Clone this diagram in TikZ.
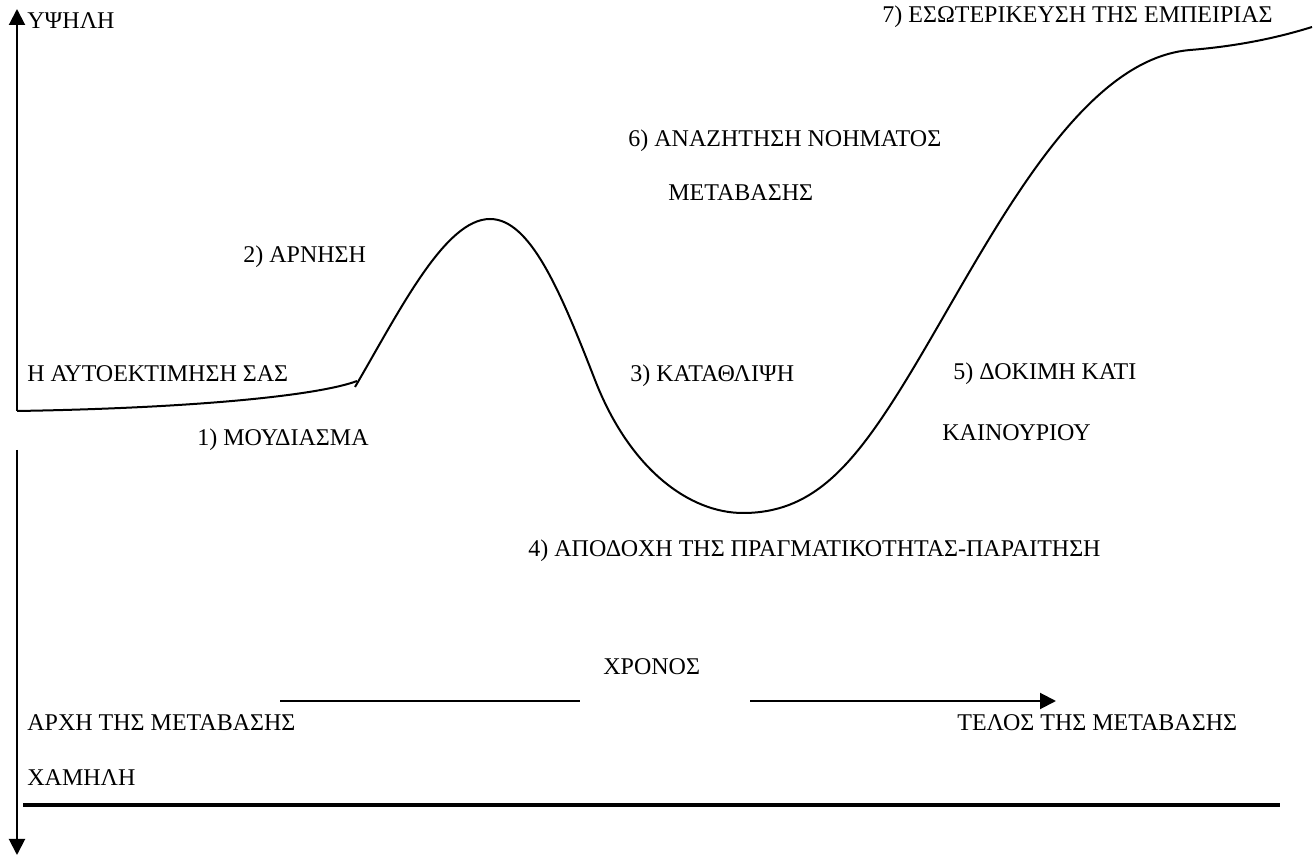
\documentclass[tikz,border=0pt]{standalone}
\usepackage{fontspec}
\setmainfont{Liberation Serif}
\usetikzlibrary{arrows.meta}
\tikzset{
	>={Triangle[length=8pt,width=8pt]}
}

\begin{document}
\begin{tikzpicture}[
x = 0.5pt, y = -0.5pt,
every node/.style = {
	font = \fontsize{12}{14}\selectfont,
	inner sep = 0pt
},
stage/.style = {
	anchor = base west
},
axis/.style = {
	->,
	line width = 1pt
},
curve/.style = {
	line width = 1pt
},
timeline/.style = {
	line width = 1pt
},
ground/.style = {
	line width = 2pt
}
]
\useasboundingbox (0,0) rectangle (1314,855);

% axis
\coordinate (origin) at (17,411);
\coordinate (high) at (17,9);
\coordinate (gapend) at (17,450);
\coordinate (low) at (17,855);
\draw[axis] (origin) -- (high);
\draw[axis] (gapend) -- (low);

% labels
\node [stage] (hi) at (27,29) {ΥΨΗΛΗ};
\node [stage] (s7) at (882,23) {7) ΕΣΩΤΕΡΙΚΕΥΣΗ ΤΗΣ ΕΜΠΕΙΡΙΑΣ};
\node [stage] (s6) at (628,147) {6) ΑΝΑΖΗΤΗΣΗ ΝΟΗΜΑΤΟΣ};
\node [stage] (s6b) at (668,201) {ΜΕΤΑΒΑΣΗΣ};
\node [stage] (s2) at (243,263) {2) ΑΡΝΗΣΗ};
\node [stage] (self) at (27,382) {Η ΑΥΤΟΕΚΤΙΜΗΣΗ ΣΑΣ};
\node [stage] (s3) at (630,382) {3) ΚΑΤΑΘΛΙΨΗ};
\node [stage] (s5) at (953,380) {5) ΔΟΚΙΜΗ ΚΑΤΙ};
\node [stage] (s1) at (197,446) {1) ΜΟΥΔΙΑΣΜΑ};
\node [stage] (s5b) at (942,441) {ΚΑΙΝΟΥΡΙΟΥ};
\node [stage] (s4) at (528,557) {4) ΑΠΟΔΟΧΗ ΤΗΣ ΠΡΑΓΜΑΤΙΚΟΤΗΤΑΣ-ΠΑΡΑΙΤΗΣΗ};
\node [stage] (time) at (603,675) {ΧΡΟΝΟΣ};
\node [stage] (begin) at (27,731) {ΑΡΧΗ ΤΗΣ ΜΕΤΑΒΑΣΗΣ};
\node [stage] (end) at (957,731) {ΤΕΛΟΣ ΤΗΣ ΜΕΤΑΒΑΣΗΣ};
\node [stage] (lo) at (27,786) {ΧΑΜΗΛΗ};

% curve
\coordinate (numb) at (357,381);
\coordinate (denial) at (355,387);
\coordinate (peak) at (490,219);
\coordinate (fall) at (595,380);
\coordinate (bottom) at (743,513);
\coordinate (rise) at (900,390);
\coordinate (shoulder) at (1190,50);
\coordinate (top) at (1312,27);
\draw[curve] (origin) .. controls (200,408) and (320,395) .. (numb);
\draw[curve] (denial) .. controls (400,310) and (445,219) .. (peak)
	.. controls (530,219) and (560,290) .. (fall)
	.. controls (630,470) and (690,513) .. (bottom)
	.. controls (810,513) and (850,470) .. (rise)
	.. controls (980,262) and (1070,60) .. (shoulder)
	.. controls (1240,46) and (1280,37) .. (top);

% time
\coordinate (t0) at (280,701);
\coordinate (t1) at (580,701);
\coordinate (t2) at (750,701);
\coordinate (t3) at (1056,701);
\draw[timeline] (t0) -- (t1);
\draw[timeline, ->] (t2) -- (t3);

\coordinate (g0) at (23,805);
\coordinate (g1) at (1280,805);
\draw[ground] (g0) -- (g1);

\end{tikzpicture}
\end{document}
